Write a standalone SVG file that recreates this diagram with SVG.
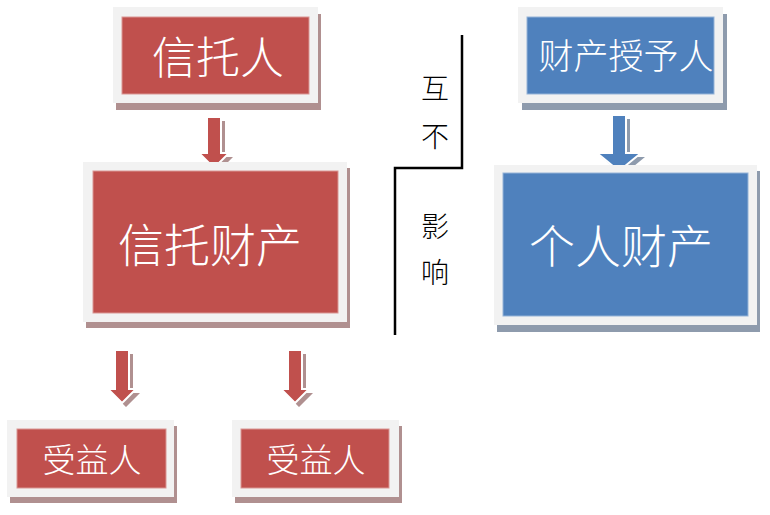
<svg xmlns="http://www.w3.org/2000/svg" width="770" height="515" viewBox="0 0 770 515">
<defs>
<style>
.frame{fill:#F2F2F2}
.rshadow{fill:#B09090}
.bshadow{fill:#8E9BAD}
.red{fill:#C0504D;stroke:#D99694;stroke-width:1}
.blue{fill:#4F81BD;stroke:#95B3D7;stroke-width:1}
.t{font-family:"Noto Sans CJK SC","Noto Sans",sans-serif;font-weight:300;fill:#FFFFFF;text-anchor:middle;dominant-baseline:central}
.d{font-family:"Noto Sans CJK SC","Noto Sans",sans-serif;font-weight:300;fill:#000000;text-anchor:middle;dominant-baseline:central;font-size:28px}
.ra{fill:#C0504D;stroke:#FFFFFF;stroke-width:2}
.ba{fill:#4F81BD;stroke:#FFFFFF;stroke-width:2}
.line{fill:none;stroke:#000000;stroke-width:2.5}
</style>
</defs>
<rect width="770" height="515" fill="#FFFFFF"/>

<g id="connectors">
<polygon class="rshadow" points="211,121 225,121 225,157 233,157 218,172 203,157 211,157"/>
<polygon class="ra" points="207,117 221,117 221,153 229,153 214,168 199,153 207,153"/>
<polygon class="rshadow" points="119,354 133,354 133,393 140,393 126,407 112,393 119,393"/>
<polygon class="ra" points="115,350 129,350 129,389 136,389 122,403 108,389 115,389"/>
<polygon class="rshadow" points="292,354 306,354 306,393 313,393 299,407 285,393 292,393"/>
<polygon class="ra" points="288,350 302,350 302,389 309,389 295,403 281,389 288,389"/>
<polygon class="bshadow" points="616,119 630,119 630,157 645,157 623,175 601,157 616,157"/>
<polygon class="ba" points="612,115 626,115 626,153 641,153 619,171 597,153 612,153"/>
</g>

<g id="n1">
<rect class="rshadow" x="116" y="14" width="205" height="96"/>
<rect class="frame" x="113" y="7" width="205" height="96"/>
<rect class="red" x="122" y="17" width="187" height="77"/>
<text class="t" x="218" y="55" font-size="44">信托人</text>
</g>

<g id="n2">
<rect class="rshadow" x="86" y="168" width="264" height="160"/>
<rect class="frame" x="83" y="162" width="264" height="160"/>
<rect class="red" x="93" y="171" width="245" height="142"/>
<text class="t" x="210" y="242" font-size="46">信托财产</text>
</g>

<g id="n3">
<rect class="rshadow" x="10" y="426" width="167" height="77"/>
<rect class="frame" x="7" y="420" width="167" height="77"/>
<rect class="red" x="17" y="429" width="149" height="59"/>
<text class="t" x="92" y="458" font-size="33">受益人</text>
</g>

<g id="n4">
<rect class="rshadow" x="235" y="426" width="167" height="77"/>
<rect class="frame" x="232" y="420" width="167" height="77"/>
<rect class="red" x="241" y="429" width="148" height="59"/>
<text class="t" x="316" y="458" font-size="33">受益人</text>
</g>

<g id="n5">
<rect class="bshadow" x="522" y="14" width="205" height="96"/>
<rect class="frame" x="518" y="7" width="205" height="96"/>
<rect class="blue" x="527" y="17" width="187" height="77"/>
<text class="t" x="626" y="53" font-size="35">财产授予人</text>
</g>

<g id="n6">
<rect class="bshadow" x="497" y="171" width="263" height="161"/>
<rect class="frame" x="494" y="165" width="263" height="160"/>
<rect class="blue" x="503" y="173" width="245" height="143"/>
<text class="t" x="621" y="243" font-size="46">个人财产</text>
</g>

<g id="divider">
<polyline class="line" points="462,35 462,168 395,168 395,335"/>
<text class="d" x="435" y="87">互</text>
<text class="d" x="435" y="135">不</text>
<text class="d" x="435" y="225">影</text>
<text class="d" x="435" y="271">响</text>
</g>
</svg>
